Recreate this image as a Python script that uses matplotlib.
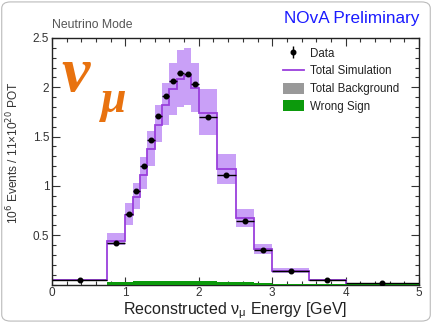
import matplotlib
matplotlib.use("Agg")
import matplotlib.pyplot as plt
import numpy as np
from matplotlib.ticker import MultipleLocator, FixedLocator
from matplotlib.lines import Line2D
from matplotlib.patches import Patch, FancyBboxPatch
from matplotlib.legend_handler import HandlerTuple

# ---- data ----
bin_edges = [0.0, 0.75, 1.0, 1.1, 1.2, 1.3, 1.4, 1.5, 1.6, 1.7, 1.8, 1.9, 2.0,
             2.25, 2.5, 2.75, 3.0, 3.5, 4.0, 5.0]
data_vals = [0.048, 0.425, 0.72, 0.95, 1.205, 1.47, 1.71, 1.915, 2.06, 2.14,
             2.13, 2.03, 1.70, 1.115, 0.64, 0.345, 0.14, 0.048, 0.02]
data_err = [0.004, 0.006, 0.008, 0.009, 0.010, 0.011, 0.012, 0.013, 0.013,
            0.013, 0.013, 0.013, 0.012, 0.010, 0.008, 0.006, 0.004, 0.003, 0.002]
sim_vals = [0.05, 0.44, 0.70, 0.89, 1.11, 1.37, 1.62, 1.82, 1.98, 2.08, 2.11,
            1.99, 1.74, 1.17, 0.675, 0.36, 0.14, 0.05, 0.01]
band_hi = [0.06, 0.525, 0.83, 1.03, 1.29, 1.555, 1.82, 2.04, 2.25, 2.38, 2.40,
           2.25, 1.98, 1.32, 0.77, 0.415, 0.17, 0.06, 0.015]
band_lo = [0.04, 0.40, 0.60, 0.77, 0.97, 1.20, 1.45, 1.62, 1.72, 1.80, 1.82,
           1.75, 1.52, 1.02, 0.58, 0.31, 0.12, 0.04, 0.005]
total_bkg = [0.0, 0.012, 0.014, 0.015, 0.016, 0.016, 0.016, 0.016, 0.016, 0.016,
             0.016, 0.016, 0.015, 0.012, 0.010, 0.008, 0.005, 0.002, 0.001]
wrong_sign = [0.0, 0.024, 0.030, 0.033, 0.035, 0.035, 0.035, 0.035, 0.035, 0.035,
              0.034, 0.033, 0.031, 0.026, 0.021, 0.015, 0.009, 0.003, 0.001]

x_ticks = [0, 1, 2, 3, 4, 5]
y_ticks = [0.5, 1.0, 1.5, 2.0, 2.5]
y_tick_labels = ["0.5", "1", "1.5", "2", "2.5"]

plt.rcParams['font.family'] = ['Liberation Sans', 'DejaVu Sans']

fig = plt.figure(figsize=(4.32, 3.23), dpi=100)
ax = fig.add_axes([52/432, 1 - 284.5/323, (419 - 52)/432, (284.5 - 38)/323])

edges = np.array(bin_edges)
centers = 0.5 * (edges[:-1] + edges[1:])
halfw = 0.5 * np.diff(edges)

band_col = '#c9a0f7'
line_col = '#9a3fdc'
green = '#0c9a0c'

ax.stairs(band_hi, edges, baseline=band_lo, fill=True, color=band_col, lw=0, zorder=1)
ax.stairs(sim_vals, edges, baseline=None, color=line_col, lw=1.3, zorder=2)
ax.stairs(total_bkg, edges, baseline=0, fill=True, color='#999999', lw=0, zorder=3)
ax.stairs(wrong_sign, edges, baseline=0, fill=True, color=green, lw=0, zorder=4)
ax.errorbar(centers, data_vals, xerr=halfw, yerr=data_err, fmt='o', color='black',
            ms=3.3, elinewidth=1.0, capsize=0, zorder=5)

ax.set_xlim(0, 5)
ax.set_ylim(0, 2.5)
ax.xaxis.set_major_locator(FixedLocator(x_ticks))
ax.xaxis.set_minor_locator(MultipleLocator(0.2))
ax.yaxis.set_major_locator(FixedLocator(y_ticks))
ax.set_yticklabels(y_tick_labels)
ax.yaxis.set_minor_locator(MultipleLocator(0.1))
ax.tick_params(which='both', direction='in', top=True, right=True, width=0.8,
               colors='#333333', labelcolor='#333333')
ax.tick_params(which='major', length=6, labelsize=8.5, pad=2)
ax.tick_params(which='minor', length=3)
for s in ax.spines.values():
    s.set_linewidth(1.0)
    s.set_color('#222222')

ax.set_xlabel('Reconstructed $\\mathregular{\\nu_{\\mu}}$ Energy [GeV]',
              fontsize=11.5, color='#222222', labelpad=1)
ax.set_ylabel('10$^{6}$ Events / 11×10$^{20}$ POT', fontsize=8.6, color='#333333')
ax.yaxis.set_label_coords(-0.083, 0.535)

handles = [
    (Line2D([], [], color='black', marker='|', ms=8, mew=1.0, lw=0),
     Line2D([], [], color='black', marker='o', ms=3.3, lw=0)),
    Line2D([], [], color=line_col, lw=1.3),
    Patch(facecolor='#999999', edgecolor='none'),
    Patch(facecolor=green, edgecolor='none'),
]
labels = ['Data', 'Total Simulation', 'Total Background', 'Wrong Sign']
leg = ax.legend(handles, labels, loc='upper left', bbox_to_anchor=(0.603, 1.0),
                frameon=False, fontsize=8.3, handlelength=1.9, handleheight=1.1,
                labelspacing=0.45, handletextpad=0.5, borderaxespad=0.4,
                handler_map={tuple: HandlerTuple(ndivide=1)})
for t in leg.get_texts():
    t.set_color('#222222')

fig.text(52/432, 1 - 25/323, 'Neutrino Mode', fontsize=8.8, color='#555555',
         va='center', ha='left')
fig.text(419/432, 1 - 18/323, 'NOvA Preliminary', fontsize=12.3, color='#1a1aff',
         va='center', ha='right')

fig.text(61/432, 1 - 76/323, 'ν', fontsize=46, color='#e8720f', fontweight='bold',
         fontstyle='italic', family='Liberation Serif', va='center', ha='left')
fig.text(101/432, 1 - 101/323, 'μ', fontsize=33, color='#e8720f', fontweight='bold',
         fontstyle='italic', family='Liberation Serif', va='center', ha='left')

fig.patches.append(FancyBboxPatch((0.004, 0.006), 0.992, 0.988,
                                  boxstyle='round,pad=0,rounding_size=0.02',
                                  transform=fig.transFigure, fill=False,
                                  edgecolor='#bbbbbb', lw=0.8))

fig.savefig('out.png', dpi=100)
